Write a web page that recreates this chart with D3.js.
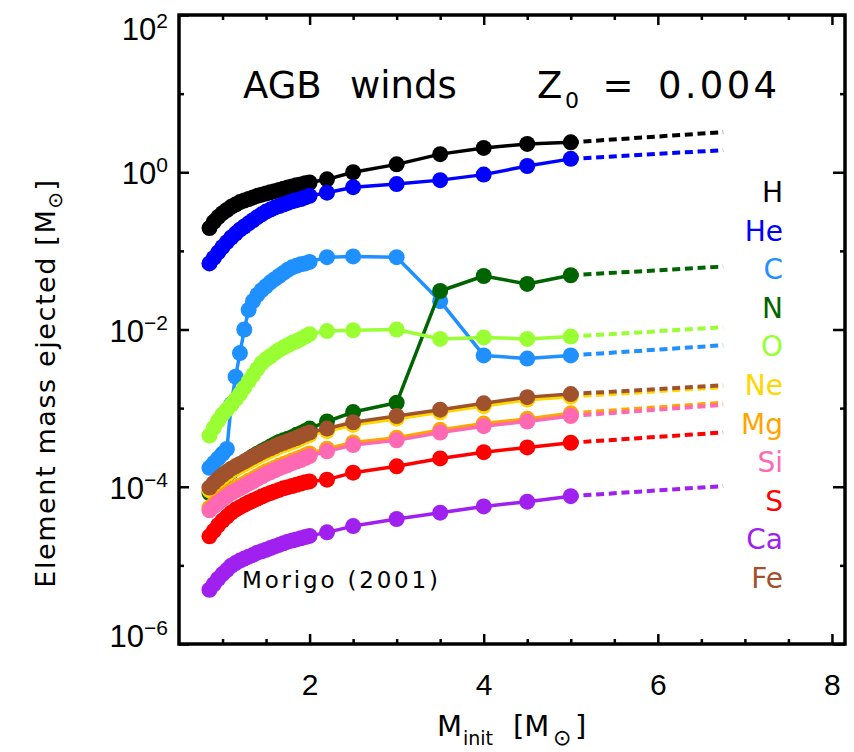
<!DOCTYPE html>
<html>
<head>
<meta charset="utf-8">
<script src="https://cdn.jsdelivr.net/npm/d3@7"></script>
<style>
  html, body { margin: 0; padding: 0; background: #fff; }
  svg { display: block; }
</style>
</head>
<body>
<svg id="chart" width="854" height="752"></svg>
<script>
// ---------------- data ----------------
const masses = [0.85,0.90,0.95,1.00,1.05,1.10,1.15,1.20,1.25,1.30,1.35,1.40,1.45,1.50,1.55,1.60,
                1.65,1.70,1.75,1.80,1.85,1.90,1.95,2.00,2.2,2.5,3.0,3.5,4.0,4.5,5.0];
const extMasses = [5.0, 6.75];

const elements = ["H","He","C","N","O","Ne","Mg","Si","S","Ca","Fe"];
const colors = ["#000000","#0000ff","#1e90ff","#006400","#99ff33","#ffd700","#ffa500","#ff69b4","#ff0000","#a020f0","#a0522d"];

const H  = [0.195,0.234,0.269,0.302,0.331,0.363,0.389,0.417,0.437,0.457,0.479,0.501,0.519,0.537,0.556,0.575,
            0.596,0.617,0.638,0.661,0.684,0.700,0.724,0.741,0.813,1.00,1.26,1.70,2.04,2.29,2.40];
const He = [0.0692,0.0813,0.0955,0.112,0.129,0.148,0.166,0.186,0.204,0.224,0.245,0.269,0.292,0.316,0.335,0.355,
            0.372,0.389,0.407,0.427,0.442,0.457,0.479,0.501,0.550,0.646,0.708,0.794,0.933,1.20,1.48];
const C  = [1.74e-4,2.00e-4,2.29e-4,2.63e-4,3.02e-4,1.12e-3,2.51e-3,5.01e-3,1.00e-2,1.78e-2,2.29e-2,2.75e-2,3.16e-2,3.55e-2,3.98e-2,4.37e-2,
            4.79e-2,5.25e-2,5.75e-2,6.17e-2,6.46e-2,6.76e-2,6.92e-2,7.24e-2,8.32e-2,8.51e-2,8.32e-2,2.29e-2,4.68e-3,4.27e-3,4.68e-3];
const N  = [8.32e-5,9.77e-5,1.12e-4,1.26e-4,1.41e-4,1.55e-4,1.70e-4,1.86e-4,2.04e-4,2.24e-4,2.45e-4,2.63e-4,2.82e-4,3.02e-4,3.24e-4,3.47e-4,
            3.72e-4,3.89e-4,4.07e-4,4.27e-4,4.57e-4,4.79e-4,5.13e-4,5.50e-4,6.76e-4,8.91e-4,1.17e-3,3.09e-2,4.79e-2,3.80e-2,4.90e-2];
const O  = [4.47e-4,5.62e-4,6.92e-4,8.32e-4,9.55e-4,1.10e-3,1.29e-3,1.51e-3,1.82e-3,2.19e-3,2.63e-3,3.16e-3,3.72e-3,4.17e-3,4.57e-3,5.01e-3,
            5.50e-3,5.89e-3,6.31e-3,6.76e-3,7.08e-3,7.59e-3,8.13e-3,8.71e-3,9.55e-3,9.77e-3,1.00e-2,7.59e-3,7.94e-3,7.59e-3,8.13e-3];
const Ne = [9.00e-5,1.03e-4,1.16e-4,1.30e-4,1.43e-4,1.57e-4,1.68e-4,1.80e-4,1.93e-4,2.07e-4,2.22e-4,2.38e-4,2.54e-4,2.70e-4,2.86e-4,3.02e-4,
            3.21e-4,3.36e-4,3.51e-4,3.68e-4,3.86e-4,4.09e-4,4.33e-4,4.53e-4,5.09e-4,6.11e-4,7.34e-4,8.83e-4,1.06e-3,1.28e-3,1.40e-3];
const Mg = [5.41e-5,6.07e-5,6.81e-5,7.47e-5,8.20e-5,8.99e-5,9.62e-5,1.03e-4,1.10e-4,1.19e-4,1.26e-4,1.36e-4,1.46e-4,1.57e-4,1.65e-4,1.75e-4,
            1.86e-4,1.94e-4,2.03e-4,2.16e-4,2.26e-4,2.37e-4,2.51e-4,2.65e-4,3.05e-4,3.66e-4,4.20e-4,5.29e-4,6.36e-4,7.30e-4,8.58e-4];
const Si = [5.01e-5,5.62e-5,6.31e-5,6.92e-5,7.59e-5,8.32e-5,8.91e-5,9.55e-5,1.02e-4,1.10e-4,1.17e-4,1.26e-4,1.35e-4,1.45e-4,1.53e-4,1.62e-4,
            1.72e-4,1.80e-4,1.88e-4,2.00e-4,2.09e-4,2.19e-4,2.32e-4,2.45e-4,2.82e-4,3.39e-4,3.89e-4,4.90e-4,5.89e-4,6.76e-4,7.94e-4];
const S  = [2.34e-5,2.75e-5,3.24e-5,3.72e-5,4.17e-5,4.68e-5,5.13e-5,5.50e-5,5.89e-5,6.31e-5,6.68e-5,7.08e-5,7.50e-5,7.94e-5,8.32e-5,8.71e-5,
            9.12e-5,9.55e-5,9.89e-5,1.02e-4,1.06e-4,1.10e-4,1.14e-4,1.17e-4,1.23e-4,1.51e-4,1.82e-4,2.29e-4,2.75e-4,3.16e-4,3.63e-4];
const Ca = [4.90e-6,5.75e-6,6.76e-6,7.76e-6,8.71e-6,9.89e-6,1.07e-5,1.15e-5,1.22e-5,1.29e-5,1.36e-5,1.45e-5,1.51e-5,1.58e-5,1.66e-5,1.74e-5,
            1.82e-5,1.91e-5,2.00e-5,2.07e-5,2.14e-5,2.21e-5,2.29e-5,2.37e-5,2.63e-5,3.16e-5,3.89e-5,4.68e-5,5.62e-5,6.46e-5,7.59e-5];
const Fe = [9.77e-5,1.12e-4,1.26e-4,1.41e-4,1.55e-4,1.70e-4,1.82e-4,1.95e-4,2.09e-4,2.24e-4,2.40e-4,2.57e-4,2.75e-4,2.92e-4,3.09e-4,3.27e-4,
            3.47e-4,3.63e-4,3.80e-4,3.98e-4,4.17e-4,4.42e-4,4.68e-4,4.90e-4,5.50e-4,6.61e-4,7.94e-4,9.55e-4,1.15e-3,1.38e-3,1.51e-3];
// extrapolated value at the end of the dashed extension (M = 6.75)
const extEnd = [3.24,1.91,6.31e-3,6.31e-2,1.07e-2,1.85e-3,1.17e-3,1.10e-3,4.90e-4,1.02e-4,1.95e-3];

const xMajorTicks = [2,4,6,8];
const xMinorTicks = [1,1.5,2.5,3,3.5,4.5,5,5.5,6.5,7,7.5];
const yMajorTicks = [1e-6,1e-4,1e-2,1e0,1e2];
const yMinorTicks = [1e-5,1e-3,1e-1,1e1];
const yTickExp = ["\u22126","\u22124","\u22122","0","2"];

const series = [H,He,C,N,O,Ne,Mg,Si,S,Ca,Fe];

// ---------------- layout ----------------
const svg = d3.select("#chart");
const L = 179, R = 845, T = 15, B = 644;
const x = d3.scaleLinear().domain([0.5, 8.15]).range([L, R]);
const y = d3.scaleLog().domain([1e-6, 1e2]).range([B, T]);

const FONT = "'DejaVu Sans', sans-serif";
const TFONT = "'Liberation Sans', Arial, sans-serif";

// ---------------- series ----------------
const line = d3.line().x(d => x(d[0])).y(d => y(d[1]));
const gData = svg.append("g");
series.forEach((vals, i) => {
  const pts = masses.map((m, j) => [m, vals[j]]);
  const g = gData.append("g");
  g.append("path").attr("d", line(pts)).attr("fill", "none")
    .attr("stroke", colors[i]).attr("stroke-width", 3.5).attr("stroke-linejoin", "round");
  const ext = [[extMasses[0], vals[vals.length - 1]], [extMasses[1], extEnd[i]]];
  g.append("path").attr("d", line(ext))
    .attr("fill", "none").attr("stroke", colors[i]).attr("stroke-width", 4)
    .attr("stroke-dasharray", "8,4.7");
  g.selectAll("circle").data(pts).join("circle")
    .attr("cx", d => x(d[0])).attr("cy", d => y(d[1])).attr("r", 8)
    .attr("fill", colors[i]);
});

// ---------------- axes ----------------
function styleAxis(g) {
  g.select(".domain").remove();
  g.selectAll(".tick line").attr("stroke", "#000").attr("stroke-width", 2.5);
}
svg.append("g").attr("transform", `translate(0,${B})`)
  .call(d3.axisBottom(x).tickValues(xMajorTicks).tickSize(-10).tickPadding(30).tickFormat(d3.format("d")))
  .call(styleAxis)
  .call(g => g.selectAll("text").attr("font-family", TFONT).attr("font-size", 30).attr("fill", "#000"));
svg.append("g").attr("transform", `translate(0,${B})`)
  .call(d3.axisBottom(x).tickValues(xMinorTicks).tickSize(-5).tickFormat("")).call(styleAxis);
svg.append("g").attr("transform", `translate(0,${T})`)
  .call(d3.axisTop(x).tickValues(xMajorTicks).tickSize(-10).tickFormat("")).call(styleAxis);
svg.append("g").attr("transform", `translate(0,${T})`)
  .call(d3.axisTop(x).tickValues(xMinorTicks).tickSize(-5).tickFormat("")).call(styleAxis);
svg.append("g").attr("transform", `translate(${L},0)`)
  .call(d3.axisLeft(y).tickValues(yMajorTicks).tickSize(-10).tickFormat("")).call(styleAxis);
svg.append("g").attr("transform", `translate(${L},0)`)
  .call(d3.axisLeft(y).tickValues(yMinorTicks).tickSize(-5).tickFormat("")).call(styleAxis);
svg.append("g").attr("transform", `translate(${R},0)`)
  .call(d3.axisRight(y).tickValues(yMajorTicks).tickSize(-12).tickFormat("")).call(styleAxis);
svg.append("g").attr("transform", `translate(${R},0)`)
  .call(d3.axisRight(y).tickValues(yMinorTicks).tickSize(-5).tickFormat("")).call(styleAxis);

// frame
svg.append("rect").attr("x", L).attr("y", T).attr("width", R - L).attr("height", B - T)
  .attr("fill", "none").attr("stroke", "#000").attr("stroke-width", 3.5);

// y tick labels 10^n
const yl = svg.append("g");
yMajorTicks.forEach((t, i) => {
  const base = Math.min(Math.max(y(t) + 12, 40), 647);
  const tx = yl.append("text").attr("x", 168).attr("y", base).attr("text-anchor", "end")
    .attr("font-family", TFONT).attr("font-size", 31).attr("fill", "#000");
  tx.append("tspan").text("10");
  tx.append("tspan").attr("dy", -12).attr("font-size", 21).text(yTickExp[i]);
});

// axis titles
const xt = svg.append("text").attr("font-family", FONT).attr("font-size", 29).attr("fill", "#000").attr("y", 736);
xt.append("tspan").attr("x", 437).text("M");
xt.append("tspan").attr("x", 463).attr("dy", 9).attr("font-size", 19).text("init");
xt.append("tspan").attr("x", 513).attr("dy", -9).text("[M");
xt.append("tspan").attr("x", 553).attr("dy", 9).attr("font-size", 22).text("\u2299");
xt.append("tspan").attr("x", 575).attr("dy", -9).text("]");

const yt = svg.append("text").attr("transform", "translate(55,383) rotate(-90)")
  .attr("text-anchor", "middle").attr("font-family", FONT).attr("font-size", 27)
  .attr("letter-spacing", 1.6).attr("fill", "#000");
yt.append("tspan").text("Element mass ejected [M");
yt.append("tspan").attr("dy", 7).attr("font-size", 20).text("\u2299");
yt.append("tspan").attr("dy", -7).text("]");

// title texts
const tg = svg.append("g").attr("font-family", FONT).attr("fill", "#000");
tg.append("text").attr("x", 243).attr("y", 98).attr("font-size", 37).text("AGB");
tg.append("text").attr("x", 350).attr("y", 98).attr("font-size", 37).text("winds");
tg.append("text").attr("x", 537).attr("y", 98).attr("font-size", 37).text("Z");
tg.append("text").attr("x", 565).attr("y", 108).attr("font-size", 22).text("0");
tg.append("text").attr("x", 618).attr("y", 98).attr("font-size", 37).attr("text-anchor", "middle").text("=");
tg.append("text").attr("x", 658).attr("y", 98).attr("font-size", 37)
  .attr("textLength", 119).attr("lengthAdjust", "spacing").text("0.004");
tg.append("text").attr("x", 242).attr("y", 588).attr("font-size", 23)
  .attr("textLength", 196).attr("lengthAdjust", "spacing").text("Morigo (2001)");

// element labels
const ly = d3.scalePoint().domain(elements).range([202, 588]);
svg.append("g").selectAll("text").data(elements).join("text")
  .attr("x", 783).attr("y", d => ly(d)).attr("text-anchor", "end")
  .attr("font-family", FONT).attr("font-size", 28)
  .attr("fill", (d, i) => colors[i]).text(d => d);
</script>
</body>
</html>
